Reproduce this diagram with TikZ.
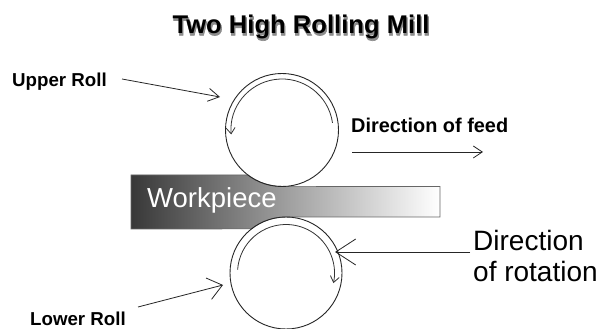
\documentclass[tikz,border=0pt]{standalone}
\usepackage{fontspec}
\setmainfont{Liberation Sans}
\usetikzlibrary{arrows.meta}
\newcommand{\softtitle}[1]{%
  \rlap{\hspace{0.8pt}\raisebox{-1.5pt}{\addfontfeature{FakeBold=2.5}\textcolor{black!45}{#1}}}%
  \textcolor{black}{#1}}
\tikzset{
  roll/.style={draw=black!85,line width=0.9pt},
  inner/.style={draw=black!80,line width=0.8pt,-{Straight Barb[length=6pt,width=9pt]}},
  pointer/.style={draw=black!85,line width=0.8pt},
  lbl/.style={inner sep=0pt,anchor=west,font=\bfseries\fontsize{18.7}{20}\selectfont},
}
\begin{document}
\begin{tikzpicture}[x=1pt,y=1pt]
\useasboundingbox (0,0) rectangle (600,329);
\fill[white] (0,0) rectangle (600,329);
% workpiece
\coordinate (ucent) at (282,199);
\coordinate (lcent) at (286,56);
\shade[left color=black!78,right color=white,middle color=black!38]
  (131,154) -- (248,154) arc[start angle=233,end angle=270,radius=56.5] -- (440,142.5) -- (440,112) -- (286,112)
  arc[start angle=90,end angle=128,radius=56] -- (131,100) -- cycle;
\draw[black!60,line width=0.7pt]
  (131,154) -- (248,154) arc[start angle=233,end angle=270,radius=56.5] -- (440,142.5) -- (440,112) -- (286,112)
  arc[start angle=90,end angle=128,radius=56] -- (131,100) -- cycle;
% rolls
\node[roll,circle,minimum size=113pt,inner sep=0pt] (upper) at (ucent) {};
\node[roll,circle,minimum size=112pt,inner sep=0pt] (lower) at (lcent) {};
\draw[inner] (upper.center) ++(8:51) arc[start angle=8,end angle=185,radius=51];
\draw[inner] (lower.center) ++(176:48.5) arc[start angle=176,end angle=-12,radius=48.5];
% texts
\node[inner sep=0pt,font=\bfseries\fontsize{25.6}{27}\selectfont] (title) at (301,301) {\softtitle{Two High Rolling Mill}};
\node[lbl] (ul) at (12,247) {Upper Roll};
\node[lbl] (ll) at (30,10) {Lower Roll};
\node[lbl,font=\bfseries\fontsize{19.9}{21}\selectfont] (df) at (351,203.5) {Direction of feed};
\node[inner sep=0pt,anchor=west,text=white,font=\fontsize{27.5}{30}\selectfont] (wp) at (147,129) {Workpiece};
\node[inner sep=0pt,anchor=west,font=\fontsize{28}{30}\selectfont] (dr1) at (473,89) {Direction};
\node[inner sep=0pt,anchor=west,font=\fontsize{28}{30}\selectfont] (dr2) at (473,58) {of rotation};
% pointers
\coordinate (ua0) at (122,250);
\coordinate (ua1) at (220,232);
\coordinate (la0) at (138,22);
\coordinate (la1) at (223,44);
\coordinate (fa0) at (352,177);
\coordinate (fa1) at (483,177);
\coordinate (ra0) at (470,77);
\coordinate (ra1) at (335,77);
\draw[pointer,-{Straight Barb[length=11pt,width=13pt]}] (ua0) -- (ua1);
\draw[pointer,-{Straight Barb[length=14pt,width=22pt]}] (la0) -- (la1);
\draw[pointer,-{Straight Barb[length=9pt,width=12pt]}] (fa0) -- (fa1);
\draw[pointer,-{Straight Barb[length=20pt,width=26pt]}] (ra0) -- (ra1);
\end{tikzpicture}
\end{document}
